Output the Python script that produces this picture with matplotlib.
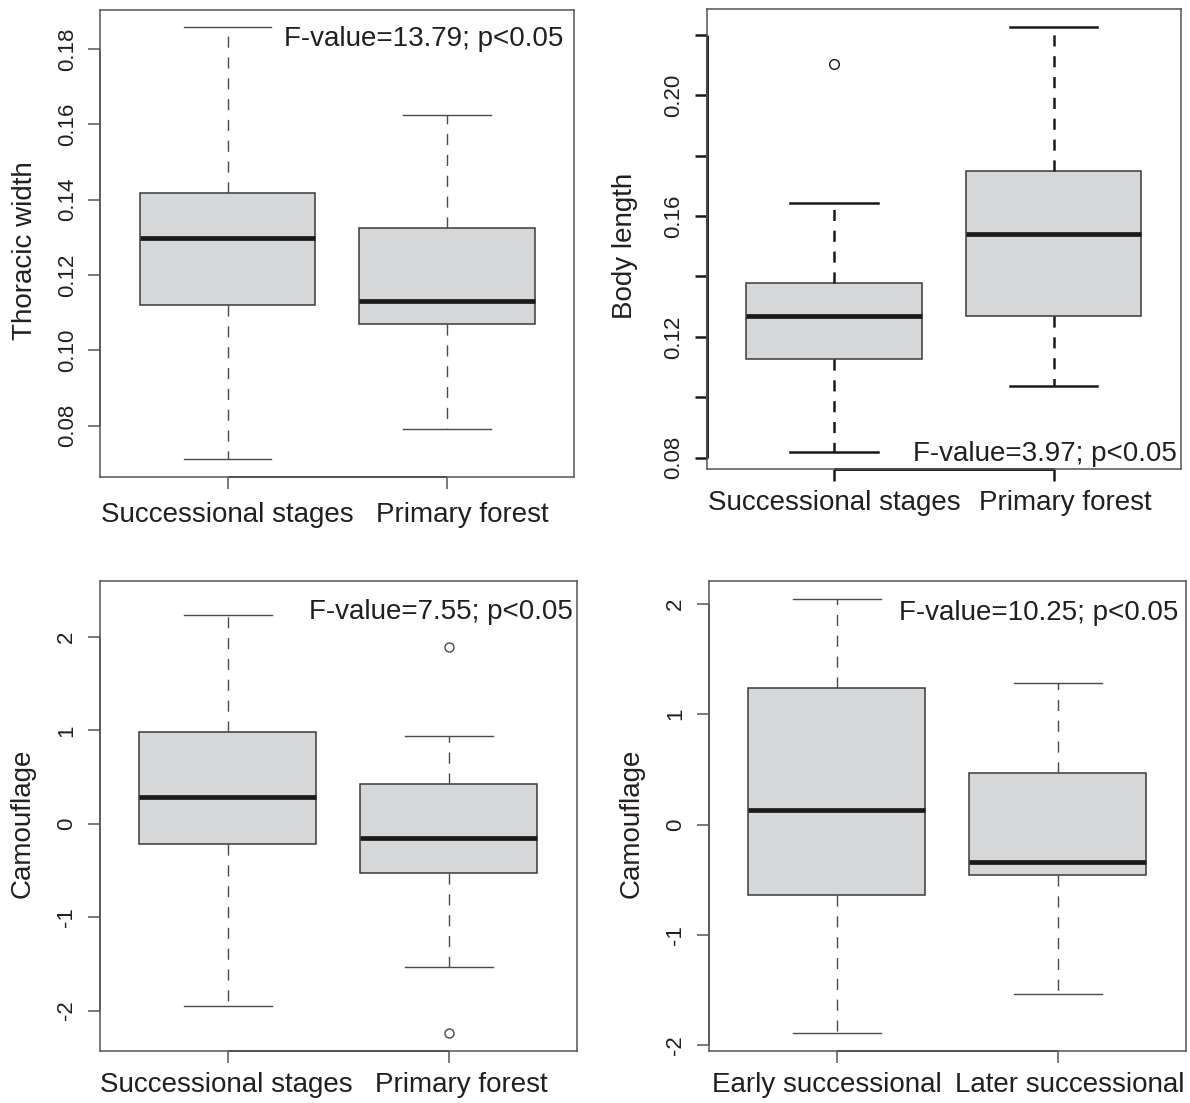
import matplotlib
matplotlib.use('Agg')
import matplotlib.pyplot as plt
from matplotlib.transforms import ScaledTranslation

plt.rcParams['font.family'] = ['Liberation Sans', 'DejaVu Sans']
plt.rcParams['lines.scale_dashes'] = False

# ---------------- data ----------------
# Panel A: Thoracic width
thor_groups = ["Successional stages", "Primary forest"]
thor_whislo = [0.0712, 0.0792]
thor_q1 = [0.1120, 0.1071]
thor_med = [0.1299, 0.1132]
thor_q3 = [0.1418, 0.1324]
thor_whishi = [0.1858, 0.1624]
thor_fliers = [[], []]
thor_yticks = [0.08, 0.10, 0.12, 0.14, 0.16, 0.18]
thor_yticklabels = ["0.08", "0.10", "0.12", "0.14", "0.16", "0.18"]
thor_note = "F-value=13.79; p<0.05"

# Panel B: Body length
body_groups = ["Successional stages", "Primary forest"]
body_whislo = [0.0817, 0.1037]
body_q1 = [0.1127, 0.1269]
body_med = [0.1270, 0.1540]
body_q3 = [0.1377, 0.1751]
body_whishi = [0.1642, 0.2225]
body_fliers = [[0.2104], []]
body_yticks = [0.08, 0.10, 0.12, 0.14, 0.16, 0.18, 0.20, 0.22]
body_yticklabels = ["0.08", "", "0.12", "", "0.16", "", "0.20", ""]
body_note = "F-value=3.97; p<0.05"

# Panel C: Camouflage (successional vs primary)
cam1_groups = ["Successional stages", "Primary forest"]
cam1_whislo = [-1.952, -1.534]
cam1_q1 = [-0.219, -0.531]
cam1_med = [0.282, -0.152]
cam1_q3 = [0.985, 0.423]
cam1_whishi = [2.23, 0.944]
cam1_fliers = [[], [1.889, -2.241]]
cam1_yticks = [-2, -1, 0, 1, 2]
cam1_yticklabels = ["-2", "-1", "0", "1", "2"]
cam1_note = "F-value=7.55; p<0.05"

# Panel D: Camouflage (early vs later successional)
cam2_groups = ["Early successional", "Later successional"]
cam2_whislo = [-1.89, -1.535]
cam2_q1 = [-0.642, -0.453]
cam2_med = [0.129, -0.336]
cam2_q3 = [1.236, 0.469]
cam2_whishi = [2.044, 1.283]
cam2_fliers = [[], []]
cam2_yticks = [-2, -1, 0, 1, 2]
cam2_yticklabels = ["-2", "-1", "0", "1", "2"]
cam2_note = "F-value=10.25; p<0.05"

TXT = '#231f20'


def panel(rect, groups, whislo, q1, med, q3, whishi, fliers, ylim, yticks,
          yticklabels, ylabel, ylabel_x, note, note_xy, xlab_dx, xlab_dy,
          bold_axes=False, msize=6.5):
    ax = fig.add_axes(rect)
    stats = []
    for g, lo, a, m, b, hi, fl in zip(groups, whislo, q1, med, q3, whishi, fliers):
        stats.append(dict(label=g, whislo=lo, q1=a, med=m, q3=b, whishi=hi, fliers=fl))
    if bold_axes:
        wcol, wlw = '#1a1a1a', 1.8
        tcol, tlw = '#1a1a1a', 1.8
    else:
        wcol, wlw = '#4a4a4a', 1.0
        tcol, tlw = '#555555', 1.1
    ax.bxp(stats, positions=[1, 2], widths=0.8, capwidths=0.4, patch_artist=True,
           boxprops=dict(facecolor='#d6d7d9', edgecolor='#3a3a3a', linewidth=1.1),
           medianprops=dict(color='#1a1a1a', linewidth=3.4, solid_capstyle='butt'),
           whiskerprops=dict(color=wcol, linewidth=wlw, linestyle=(0, (8, 7))),
           capprops=dict(color=wcol, linewidth=wlw),
           flierprops=dict(marker='o', markerfacecolor='none', markeredgecolor=wcol,
                           markersize=msize, markeredgewidth=1.0))
    ax.set_xlim(0.42, 2.58)
    ax.set_ylim(*ylim)
    ax.set_xticks([1, 2])
    ax.set_xticklabels(["", ""])
    ax.set_yticks(yticks)
    ax.set_yticklabels(yticklabels, fontsize=16, color=TXT, rotation=90, va='center')
    ax.tick_params(axis='both', direction='out', length=8.6, width=tlw, color=tcol)
    ax.tick_params(axis='y', pad=7.5)
    # category labels below the ticks
    for xpos, g, dx in zip([1, 2], groups, xlab_dx):
        tr = ax.get_xaxis_transform() + ScaledTranslation(dx / 100.0, -xlab_dy / 100.0,
                                                          fig.dpi_scale_trans)
        ax.text(xpos, 0, g, transform=tr, ha='center', va='baseline',
                fontsize=20, color=TXT)
    for s in ax.spines.values():
        s.set_color('#555555')
        s.set_linewidth(1.1)
    # R-style axis lines between first and last tick
    ax.plot([1, 2], [0, 0], transform=ax.get_xaxis_transform(), color=tcol,
            lw=tlw + 0.3, clip_on=False, solid_capstyle='butt')
    ax.plot([0, 0], [yticks[0], yticks[-1]], transform=ax.get_yaxis_transform(),
            color=tcol, lw=tlw + 0.3 if bold_axes else tlw, clip_on=False,
            solid_capstyle='butt')
    ax.set_ylabel(ylabel, fontsize=20, color=TXT, va='center')
    ax.yaxis.set_label_coords(ylabel_x, 0.5 - 7.0 / (rect[3] * 1103))
    ax.text(note_xy[0], note_xy[1], note, transform=ax.transAxes, ha='right',
            va='baseline', fontsize=20, color=TXT)
    return ax


fig = plt.figure(figsize=(11.9, 11.03), dpi=100)

panel([0.0843, 0.5678, 0.3983, 0.4231], thor_groups, thor_whislo, thor_q1, thor_med,
      thor_q3, thor_whishi, thor_fliers, (0.0665, 0.1903), thor_yticks,
      thor_yticklabels, "Thoracic width", -0.159, thor_note, (0.976, 0.923),
      [0, 15], 45)

panel([0.5941, 0.5745, 0.3981, 0.4176], body_groups, body_whislo, body_q1, body_med,
      body_q3, body_whishi, body_fliers, (0.0761, 0.2287), body_yticks,
      body_yticklabels, "Body length", -0.173, body_note, (0.992, 0.018),
      [0, 12], 41, bold_axes=True, msize=7)

panel([0.0838, 0.0471, 0.4011, 0.4264], cam1_groups, cam1_whislo, cam1_q1, cam1_med,
      cam1_q3, cam1_whishi, cam1_fliers, (-2.434, 2.601), cam1_yticks,
      cam1_yticklabels, "Camouflage", -0.161, cam1_note, (0.992, 0.918),
      [-2, 12], 41)

panel([0.5955, 0.0471, 0.4011, 0.4264], cam2_groups, cam2_whislo, cam2_q1, cam2_med,
      cam2_q3, cam2_whishi, cam2_fliers, (-2.053, 2.21), cam2_yticks,
      cam2_yticklabels, "Camouflage", -0.161, cam2_note, (0.985, 0.916),
      [-10, 12], 41)

fig.savefig('out.png', dpi=100)
